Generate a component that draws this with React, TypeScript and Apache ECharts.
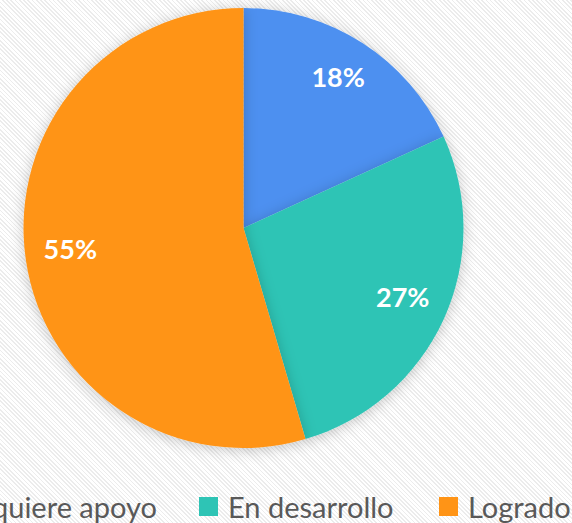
import React, { useEffect, useRef } from "react";
import * as echarts from "echarts";

const categories = ["Requiere apoyo", "En desarrollo", "Logrado"];
const values = [2, 3, 6];
const colors = ["#4d90f0", "#2ec4b5", "#ff9416"];

export default function App() {
  const ref = useRef<HTMLDivElement>(null);
  useEffect(() => {
    if (!ref.current) return;
    const chart = echarts.init(ref.current, undefined, { renderer: "svg" });
    const data = categories.map((name, i) => ({
      name,
      value: values[i],
      itemStyle: { color: colors[i] },
    }));
    const legendText = {
      color: "#595959",
      fontSize: 29,
      fontFamily: "Lato",
      lineHeight: 29,
      padding: [0, 0, 0, 5],
    };
    const legendBase = {
      orient: "horizontal" as const,
      top: 492,
      padding: 0,
      icon: "rect",
      itemWidth: 19,
      itemHeight: 19,
      selectedMode: false,
      textStyle: legendText,
    };
    chart.setOption({
      animation: false,
      backgroundColor: "transparent",
      legend: [
        { ...legendBase, data: [categories[0]], right: 415 },
        { ...legendBase, data: [categories[1]], left: 199 },
        { ...legendBase, data: [categories[2]], left: 439 },
      ],
      series: [
        {
          type: "pie",
          center: [243.5, 228],
          radius: [0, 220],
          startAngle: 90,
          clockwise: true,
          silent: true,
          label: { show: false },
          labelLine: { show: false },
          itemStyle: {
            shadowBlur: 14,
            shadowColor: "rgba(0,0,0,0.22)",
            shadowOffsetX: 0,
            shadowOffsetY: 2,
          },
          data,
        },
        {
          type: "pie",
          center: [243.5, 228],
          radius: [130, 214],
          startAngle: 90,
          clockwise: true,
          silent: true,
          itemStyle: { color: "transparent" },
          labelLine: { show: false },
          label: {
            show: true,
            position: "inside",
            offset: [0, -4],
            color: "#ffffff",
            fontSize: 27,
            fontWeight: "bold",
            fontFamily: "Lato",
            formatter: (p: any) => Math.round(p.percent) + "%",
          },
          data: categories.map((name, i) => ({
            name: name + " ",
            value: values[i],
          })),
        },
      ],
    });
    return () => chart.dispose();
  }, []);
  return (
    <div
      style={{
        position: "fixed",
        left: 0,
        top: 0,
        width: 572,
        height: 523,
        background:
          "repeating-linear-gradient(45deg, #ffffff 0px, #ffffff 1.8px, #ececec 1.8px, #ececec 3px)",
      }}
    >
      <div ref={ref} style={{ width: 572, height: 523 }} />
    </div>
  );
}
